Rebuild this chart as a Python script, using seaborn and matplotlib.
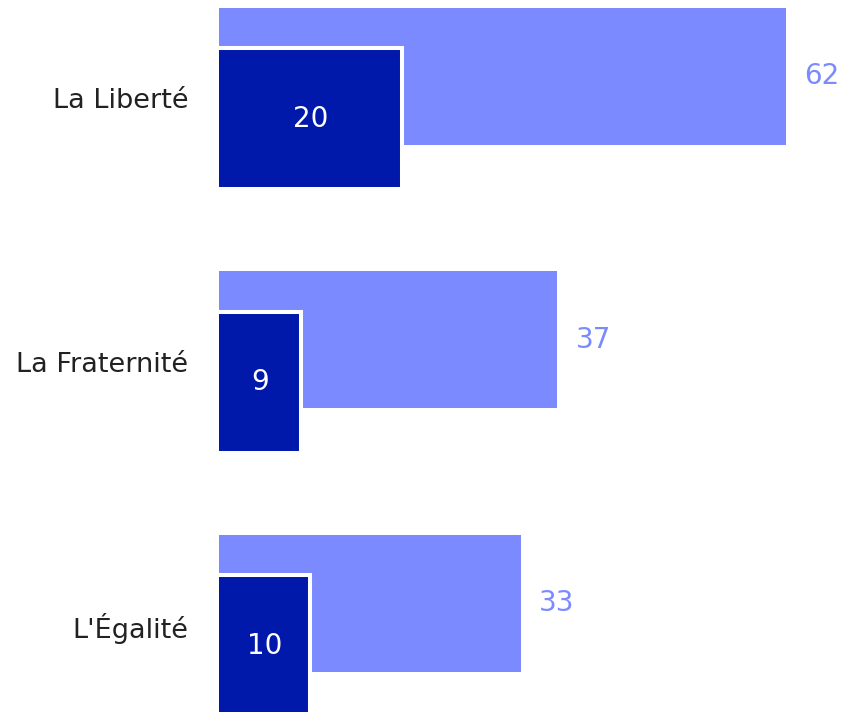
import matplotlib
matplotlib.use("Agg")
import matplotlib.pyplot as plt
import seaborn as sns
import pandas as pd

categories = ["La Liberté", "La Fraternité", "L'Égalité"]
total_values = [62, 37, 33]
sub_values = [20, 9, 10]

light_color = "#7B8BFF"
dark_color = "#0019AA"

df = pd.DataFrame({
    "category": categories,
    "total": total_values,
    "sub": sub_values,
})

sns.set_style("white")
plt.rcParams["font.family"] = ["DejaVu Sans"]

fig = plt.figure(figsize=(8.46, 7.12), dpi=100)
ax = fig.add_axes([0.259, 0.0, 0.741, 1.0])

light_height = 0.52
light_shift = 0.083
dark_height = 0.535
dark_shift = 0.078

# Light bars (totals), moved up a little
sns.barplot(data=df, x="total", y="category", orient="h", color=light_color,
            width=light_height, saturation=1, linewidth=0, ax=ax)
n_light = len(ax.patches)
for p in ax.patches:
    p.set_y(p.get_y() - light_shift)

# Dark bars (sub values), moved down and drawn on top with a white edge
sns.barplot(data=df, x="sub", y="category", orient="h", color=dark_color,
            width=dark_height, saturation=1, edgecolor="white", linewidth=2.9, ax=ax)
for p in ax.patches[n_light:]:
    p.set_y(p.get_y() + dark_shift)
    # push the left edge outside the axes so its white line gets clipped
    p.set_x(-0.5)
    p.set_width(p.get_width() + 0.5)
    p.set_zorder(3)

# Value labels
for i, (t, s) in enumerate(zip(total_values, sub_values)):
    ax.text(t + 2.0, i - light_shift, str(t), color=light_color, fontsize=20,
            va="center", ha="left")
    ax.text(s / 2, i + dark_shift, str(s), color="white", fontsize=20,
            va="center", ha="center", zorder=4)

ax.set_xlim(0, 68.6)
ax.set_ylim(2.33, -0.372)
ax.set_xlabel("")
ax.set_ylabel("")
ax.set_xticks([])
ax.tick_params(axis="y", length=0, pad=22, labelsize=19.5, labelcolor="#222222")
sns.despine(ax=ax, left=True, bottom=True)

fig.savefig("out.png", dpi=100)
